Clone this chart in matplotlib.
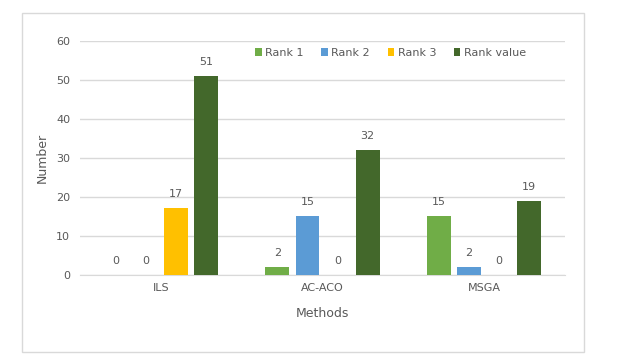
import matplotlib.pyplot as plt
import numpy as np
from matplotlib.patches import Rectangle

methods = ["ILS", "AC-ACO", "MSGA"]
series_names = ["Rank 1", "Rank 2", "Rank 3", "Rank value"]
rank1 = [0, 2, 15]
rank2 = [0, 15, 2]
rank3 = [17, 0, 0]
rank_value = [51, 32, 19]
colors = ["#70AD47", "#5B9BD5", "#FFC000", "#43682B"]

text_color = "#595959"
grid_color = "#D9D9D9"

fig = plt.figure(figsize=(6.18, 3.62), dpi=100)
# outer chart border
fig.patches.append(Rectangle((22 / 618, 1 - 352 / 362), 562 / 618, 339 / 362,
                             transform=fig.transFigure, fill=False,
                             edgecolor=grid_color, linewidth=1))

ax = fig.add_axes([80 / 618, 1 - 274.7 / 362, 485 / 618, 233.7 / 362])

x = np.arange(len(methods))
width = 0.148
pitch = 0.186
all_series = [rank1, rank2, rank3, rank_value]
for i, (name, vals, c) in enumerate(zip(series_names, all_series, colors)):
    pos = x + (i - 1.5) * pitch
    bars = ax.bar(pos, vals, width, color=c, label=name, zorder=3)
    for b, v in zip(bars, vals):
        ax.annotate(str(v), (b.get_x() + b.get_width() / 2, v),
                    xytext=(0, 6.5), textcoords="offset points",
                    ha="center", va="bottom", fontsize=8, color=text_color)

ax.set_xlim(-0.5, 2.5)
ax.set_ylim(0, 60)
ax.set_yticks(range(0, 61, 10))
ax.set_xticks(x)
ax.set_xticklabels(methods)
ax.tick_params(length=0, colors=text_color, labelsize=8)
ax.tick_params(axis="x", pad=6)
ax.tick_params(axis="y", pad=7)
ax.grid(axis="y", color=grid_color, linewidth=1, zorder=0)
for s in ["top", "right", "left"]:
    ax.spines[s].set_visible(False)
ax.spines["bottom"].set_color(grid_color)
ax.set_ylabel("Number", fontsize=9, color=text_color, labelpad=5)
ax.set_xlabel("Methods", fontsize=9, color=text_color, labelpad=10)

ax.legend(loc="center", bbox_to_anchor=(0.64, 0.949), ncol=4, frameon=False,
          fontsize=8, handlelength=0.6, handleheight=0.6, handletextpad=0.3,
          columnspacing=1.6, labelcolor=text_color, borderpad=0)

fig.savefig("out.png", dpi=100)
